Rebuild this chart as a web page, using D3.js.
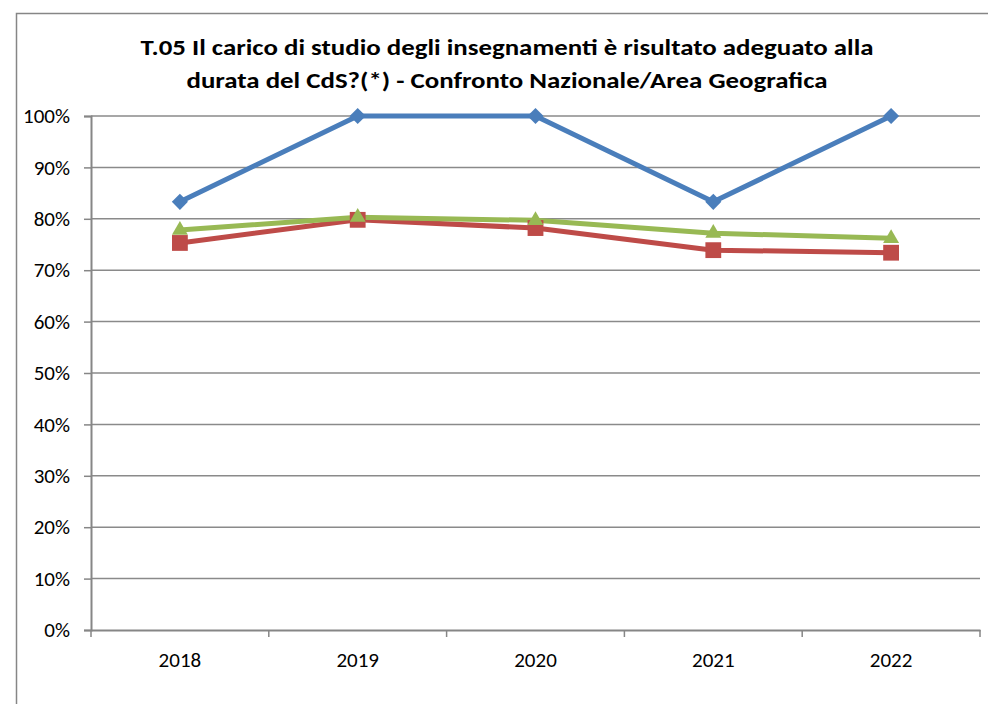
<!DOCTYPE html>
<html>
<head>
<meta charset="utf-8">
<script src="https://cdnjs.cloudflare.com/ajax/libs/d3/7.8.5/d3.min.js"></script>
<style>
  body { margin: 0; background: #fff; }
  text { font-family: Calibri, Carlito, "Open Sans", "Liberation Sans", sans-serif; fill: #000; }
</style>
</head>
<body>
<script>
// data
var years = ["2018", "2019", "2020", "2021", "2022"];
var corso = [0.833, 1.0, 1.0, 0.833, 1.0];
var nazionale = [0.753, 0.798, 0.782, 0.739, 0.734];
var area = [0.778, 0.803, 0.797, 0.772, 0.762];
var yTicks = [0, 0.1, 0.2, 0.3, 0.4, 0.5, 0.6, 0.7, 0.8, 0.9, 1.0];
var titleLines = [
  "T.05 Il carico di studio degli insegnamenti è risultato adeguato alla",
  "durata del CdS?(*) - Confronto Nazionale/Area Geografica"
];

var width = 988, height = 704;
var plotL = 91, plotR = 980, plotT = 116, plotB = 630;

var svg = d3.select("body").append("svg")
  .attr("width", width).attr("height", height);

// outer chart frame (right/bottom edges fall off the picture)
svg.append("path")
  .attr("d", "M16.5," + height + "V13.5H" + width)
  .attr("fill", "none").attr("stroke", "#868686").attr("stroke-width", 1.5);

// title
svg.append("g").selectAll("text").data(titleLines).enter().append("text")
  .attr("x", 507).attr("y", (d, i) => 55 + i * 33)
  .attr("text-anchor", "middle")
  .style("font-size", "23px").attr("font-weight", "bold")
  .attr("textLength", (d, i) => i == 0 ? 733 : 641)
  .attr("lengthAdjust", "spacingAndGlyphs")
  .text(d => d);

var x = d3.scaleBand().domain(years).range([plotL, plotR]);
var y = d3.scaleLinear().domain([0, 1]).range([plotB, plotT]);

// gridlines
svg.append("g").selectAll("line").data(yTicks.slice(1)).enter().append("line")
  .attr("x1", plotL).attr("x2", plotR)
  .attr("y1", d => y(d)).attr("y2", d => y(d))
  .attr("stroke", "#8a8a8a").attr("stroke-width", 1.5);

// y axis
var yAxis = d3.axisLeft(y).tickValues(yTicks).tickFormat(d3.format(".0%"))
  .tickSize(7).tickPadding(14);
var gy = svg.append("g").attr("transform", "translate(" + plotL + ",0)").call(yAxis);
gy.attr("font-family", null).attr("font-size", null);
gy.select(".domain").attr("stroke", "#868686").attr("stroke-width", 2);
gy.selectAll(".tick line").attr("stroke", "#868686").attr("stroke-width", 1.5);
gy.selectAll(".tick text").style("font-size", "21px").attr("fill", "#000");

// x axis
var xAxis = d3.axisBottom(x).tickSize(0).tickPadding(22);
var gx = svg.append("g").attr("transform", "translate(0," + plotB + ")").call(xAxis);
gx.attr("font-family", null).attr("font-size", null);
gx.select(".domain").attr("stroke", "#868686").attr("stroke-width", 2);
gx.selectAll(".tick text").style("font-size", "21px").attr("fill", "#000");
// tick marks between categories
var bounds = years.map(d => x(d)).concat([plotR]);
gx.selectAll(".cat").data(bounds).enter().append("line")
  .attr("x1", d => d).attr("x2", d => d).attr("y1", 0).attr("y2", 7)
  .attr("stroke", "#868686").attr("stroke-width", 1.5);

var cx = d => x(d) + x.bandwidth() / 2;
var line = d3.line().x((d, i) => cx(years[i])).y(d => y(d));

var series = [
  { vals: nazionale, color: "#be4b48", sym: d3.symbolSquare, size: 250, rot: 0 },
  { vals: area, color: "#98b954", sym: d3.symbolTriangle, size: 110, rot: 0 },
  { vals: corso, color: "#4a7ebb", sym: d3.symbolSquare, size: 130, rot: 45 }
];

series.forEach(s => {
  svg.append("path").datum(s.vals)
    .attr("d", line)
    .attr("fill", "none").attr("stroke", s.color)
    .attr("stroke-width", 5).attr("stroke-linejoin", "round");
});
series.forEach(s => {
  svg.append("g").selectAll("path").data(s.vals).enter().append("path")
    .attr("transform", (d, i) => "translate(" + cx(years[i]) + "," + y(d) + ") rotate(" + s.rot + ")")
    .attr("d", d3.symbol().type(s.sym).size(s.size))
    .attr("fill", s.color);
});
</script>
</body>
</html>
